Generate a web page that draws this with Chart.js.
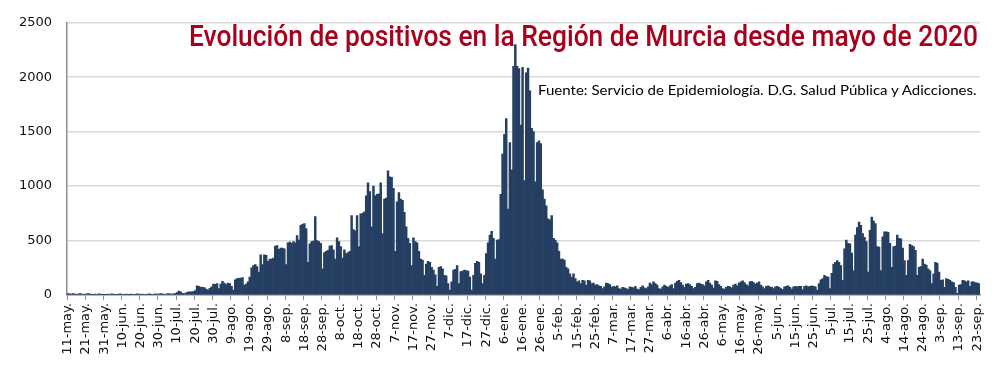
<!DOCTYPE html>
<html lang="es">
<head>
<meta charset="utf-8">
<title>Evolución de positivos en la Región de Murcia</title>
<script src="https://cdn.jsdelivr.net/npm/chart.js@4.4.1/dist/chart.umd.min.js"></script>
<style>
  html, body { margin: 0; padding: 0; background: #fff; }
  #wrap { position: relative; width: 1000px; height: 368px; overflow: hidden; }
  #chart { position: absolute; left: 0; top: 0; }
  .fit { position: absolute; white-space: nowrap; transform-origin: 0 0; }
  #titulo { left: 189px; top: 21px; font-family: Roboto, 'Liberation Sans', sans-serif; font-weight: 500; font-size: 30px; line-height: 30px; color: #a8001c; }
  #fuente { left: 538px; top: 82px; font-family: Lato, 'Open Sans', sans-serif; font-size: 13.5px; line-height: 16px; color: #000; }
</style>
</head>
<body>
<div id="wrap">
  <canvas id="chart" width="1000" height="368"></canvas>
  <div id="titulo" class="fit" data-w="789">Evolución de positivos en la Región de Murcia desde mayo de 2020</div>
  <div id="fuente" class="fit" data-w="439">Fuente: Servicio de Epidemiología. D.G. Salud Pública y Adicciones.</div>
</div>
<script>
'use strict';

var START_DATE = '2020-05-11';
var BAR_COLOR = '#253f63';

// one label every 10 days
var TICK_LABELS = ['11-may.', '21-may.', '31-may.', '10-jun.', '20-jun.', '30-jun.', '10-jul.', '20-jul.', '30-jul.',
	'9-ago.', '19-ago.', '29-ago.', '8-sep.', '18-sep.', '28-sep.', '8-oct.', '18-oct.', '28-oct.',
	'7-nov.', '17-nov.', '27-nov.', '7-dic.', '17-dic.', '27-dic.', '6-ene.', '16-ene.', '26-ene.',
	'5-feb.', '15-feb.', '25-feb.', '7-mar.', '17-mar.', '27-mar.', '6-abr.', '16-abr.', '26-abr.',
	'6-may.', '16-may.', '26-may.', '5-jun.', '15-jun.', '25-jun.', '5-jul.', '15-jul.', '25-jul.',
	'4-ago.', '14-ago.', '24-ago.', '3-sep.', '13-sep.', '23-sep.'];

// daily positives, 11-may to 31-dic 2020
var CASES_2020 = [
	14, 10, 8, 12, 9, 6, 11, 13, 7, 9,
	8, 12, 10, 6, 5, 9, 7, 11, 8, 4,
	3, 6, 9, 7, 10, 8, 5, 6, 9, 11,
	7, 5, 8, 6, 4, 9, 7, 6, 10, 8,
	6, 9, 7, 5, 8, 10, 6, 7, 11, 9,
	8, 12, 10, 7, 9, 13, 11, 8, 10, 14,
	22, 35, 28, 16, 14, 20, 26, 30, 28, 32,
	40, 85, 80, 72, 70, 68, 55, 45, 62, 75,
	100, 98, 105, 60, 100, 125, 110, 95, 110, 105,
	80, 45, 140, 150, 152, 155, 160, 90, 100, 120,
	165, 250, 270, 280, 260, 210, 370, 280, 370, 365,
	310, 330, 330, 340, 450, 455, 420, 430, 430, 425,
	280, 480, 485, 475, 490, 480, 545, 505, 640, 650,
	655, 610, 300, 470, 490, 495, 720, 500, 490, 475,
	240, 390, 400, 410, 450, 455, 415, 330, 525, 490,
	445, 340, 415, 380, 390, 400, 730, 600, 590, 730,
	445, 745, 750, 765, 910, 1030, 950, 625, 1000, 910,
	925, 930, 1030, 565, 880, 890, 1140, 1085, 1080, 980,
	400, 855, 940, 880, 870, 760, 625, 520, 475, 270,
	525, 490, 480, 400, 330, 320, 180, 285, 310, 300,
	255, 230, 185, 80, 255, 260, 240, 180, 175, 105,
	45, 120, 230, 235, 270, 105, 215, 220, 230, 225,
	220, 165, 45, 180, 290, 310, 300, 195, 105, 180,
	380, 480, 550, 585, 520
];

// daily positives, 1-ene to 24-sep 2021
var CASES_2021 = [
	330, 505, 510, 925, 1295,
	1475, 1620, 790, 1400, 1150, 2100, 2300, 2100, 2080, 1560,
	2090, 1050, 2040, 2085, 1875, 1530, 1500, 1040, 1400, 1415,
	1390, 965, 880, 820, 700, 690, 730, 520, 505, 480,
	400, 330, 330, 320, 255, 240, 195, 165, 195, 150,
	120, 130, 105, 135, 130, 90, 135, 130, 105, 110,
	90, 95, 85, 80, 60, 75, 110, 105, 95, 70,
	80, 75, 85, 60, 55, 70, 65, 60, 50, 75,
	70, 65, 80, 55, 50, 70, 85, 65, 60, 75,
	110, 95, 120, 105, 90, 60, 55, 75, 90, 80,
	70, 85, 95, 60, 110, 125, 135, 115, 90, 70,
	100, 105, 95, 80, 60, 70, 105, 110, 100, 95,
	85, 120, 135, 110, 90, 65, 130, 125, 95, 80,
	60, 55, 70, 80, 75, 65, 90, 100, 85, 110,
	120, 130, 115, 95, 85, 120, 125, 115, 100, 110,
	120, 90, 75, 60, 80, 85, 75, 70, 60, 75,
	80, 70, 60, 50, 75, 80, 85, 70, 55, 75,
	80, 75, 80, 80, 50, 80, 85, 75, 80, 85,
	80, 75, 45, 105, 140, 150, 180, 170, 165, 60,
	200, 285, 300, 315, 300, 270, 135, 425, 505, 475,
	470, 385, 225, 550, 620, 670, 640, 565, 530, 490,
	210, 595, 715, 680, 655, 445, 440, 225, 535, 580,
	580, 575, 475, 255, 445, 450, 550, 520, 515, 430,
	315, 180, 315, 465, 455, 445, 410, 180, 255, 260,
	330, 285, 275, 240, 225, 105, 195, 300, 290, 210,
	135, 140, 70, 150, 145, 135, 120, 115, 70, 15,
	90, 95, 135, 130, 120, 130, 80, 120, 120, 115,
	110, 105
];

var cases = CASES_2020.concat(CASES_2021);

// one category per day
var days = [];
var d0 = new Date(START_DATE + 'T12:00:00Z');
for (var i = 0; i < cases.length; i++) {
	var d = new Date(d0.getTime() + i * 86400000);
	days.push(d.toISOString().slice(0, 10));
}

var tickFont = { family: "'DejaVu Sans', Verdana, sans-serif", size: 13 };

var ctx = document.getElementById('chart').getContext('2d');
var chart = new Chart(ctx, {
	type: 'bar',
	data: {
		labels: days,
		datasets: [{
			data: cases,
			backgroundColor: BAR_COLOR,
			borderWidth: 0,
			barPercentage: 1,
			categoryPercentage: 1
		}]
	},
	options: {
		responsive: false,
		animation: false,
		layout: { padding: { top: 12, right: 20, bottom: 0, left: 0 } },
		plugins: {
			legend: { display: false },
			tooltip: { enabled: false }
		},
		scales: {
			x: {
				grid: {
					drawOnChartArea: false,
					tickLength: 5,
					lineWidth: 1,
					color: function(c) { return c.index % 10 === 0 ? '#8c8c8c' : 'rgba(0,0,0,0)'; }
				},
				border: { color: '#8c8c8c', width: 1.5 },
				ticks: {
					autoSkip: false,
					maxRotation: 90,
					minRotation: 90,
					padding: 3,
					color: '#111',
					font: tickFont,
					callback: function(v, i) { return i % 10 === 0 ? TICK_LABELS[i / 10] : ''; }
				},
				afterFit: function(s) { s.height = 73; }
			},
			y: {
				min: 0,
				max: 2500,
				ticks: {
					stepSize: 500,
					padding: 15,
					color: '#111',
					font: tickFont,
					callback: function(v) { return String(v); }
				},
				grid: { color: '#d9d9d9', lineWidth: 1.5, drawTicks: false },
				border: { color: '#8c8c8c', width: 1.5 },
				afterFit: function(s) { s.width = 67; }
			}
		}
	}
});

// squeeze the overlay texts to the width they take in the original
function fitTexts() {
	var els = document.querySelectorAll('.fit');
	for (var k = 0; k < els.length; k++) {
		var el = els[k];
		el.style.transform = 'none';
		var w = el.offsetWidth;
		var target = parseFloat(el.getAttribute('data-w'));
		if (w > 0) el.style.transform = 'scaleX(' + (target / w) + ')';
	}
}
fitTexts();
if (document.fonts && document.fonts.ready) document.fonts.ready.then(fitTexts);
</script>
</body>
</html>
